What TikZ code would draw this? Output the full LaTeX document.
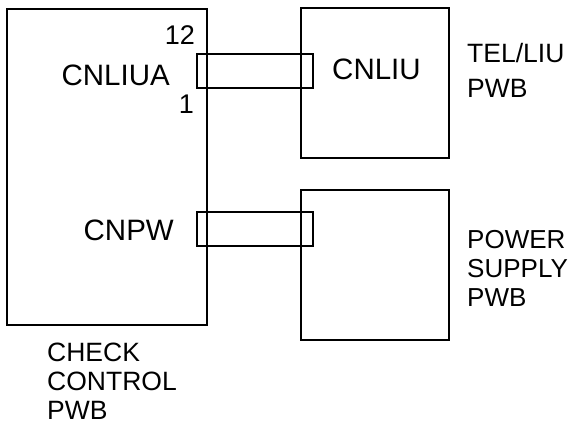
\documentclass[tikz,border=0pt]{standalone}
\usepackage{fontspec}
\setmainfont{Liberation Sans}
\usepackage{tikz}

\begin{document}
\begin{tikzpicture}[x=1pt, y=-1pt,
    board/.style={draw, line width=1.8pt, inner sep=0pt},
    plug/.style={draw, line width=1.8pt, inner sep=0pt, minimum width=116pt, minimum height=34pt},
    cnlabel/.style={inner sep=0pt, font=\fontsize{29.5}{31}\selectfont},
    pinlabel/.style={inner sep=0pt, anchor=base east, font=\fontsize{27}{29}\selectfont},
    boardname/.style={inner sep=0pt, align=left, anchor=north west}
  ]
    \useasboundingbox (0,0) rectangle (573,428);
    % boards
    \node[board, minimum width=200pt, minimum height=316pt] (check) at (107,167) {};
    \node[board, minimum width=148pt, minimum height=150pt] (tel) at (375,83) {};
    \node[board, minimum width=148pt, minimum height=150pt] (psu) at (375,265) {};
    % plugs
    \node[plug] (liu) at (255,71) {};
    \node[plug] (pw) at (255,229) {};
    % connector names
    \node[cnlabel, anchor=base east] (cnliua) at (170,85) {CNLIUA};
    \node[pinlabel] (pin12) at (195,45) {12};
    \node[pinlabel] (pin1) at (194,113) {1};
    \node[cnlabel, anchor=base east] (cnpw) at (174,240) {CNPW};
    \node[cnlabel, anchor=base west] (cnliu) at (332,79) {CNLIU};
    % board names
    \node[boardname, font=\fontsize{26.5}{35}\selectfont] (telname) at (467,43) {TEL/LIU\\PWB};
    \node[boardname, font=\fontsize{26}{29}\selectfont] (psuname) at (467,230) {POWER\\SUPPLY\\PWB};
    \node[boardname, font=\fontsize{26.5}{29}\selectfont] (checkname) at (47,343) {CHECK\\CONTROL\\PWB};
  \end{tikzpicture}
\end{document}
